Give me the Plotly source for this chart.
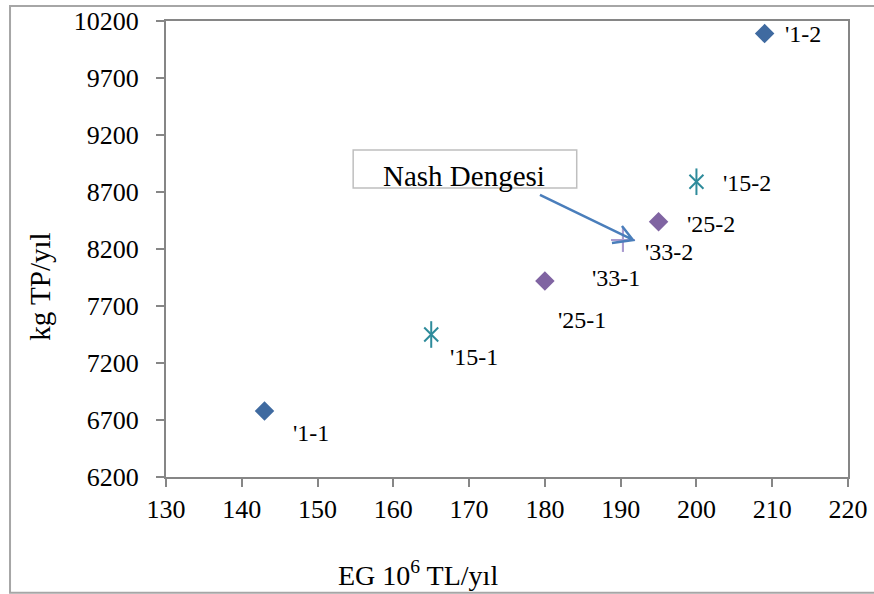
import plotly.graph_objects as go

# Data
labels = ["'1-1", "'1-2", "'15-1", "'15-2", "'25-1", "'25-2", "'33-1", "'33-2"]
x_vals = [143, 209, 165, 200, 180, 195, 190.3, 190.3]
y_vals = [6780, 10090, 7450, 8790, 7920, 8440, 8280, 8280]
groups = ["1", "1", "15", "15", "25", "25", "33", "33"]

x_ticks = [130, 140, 150, 160, 170, 180, 190, 200, 210, 220]
y_ticks = [6200, 6700, 7200, 7700, 8200, 8700, 9200, 9700, 10200]

# label offsets (pixels) relative to markers
label_dx = [26, 18, 17, 25, 11, 26, -33, 20]
label_dy = [-22, 0, -22, -1, -39, -2, -38, -12]

FONT = "Liberation Serif, Times New Roman, serif"

def sel(g):
    idx = [i for i, gg in enumerate(groups) if gg == g]
    return [x_vals[i] for i in idx], [y_vals[i] for i in idx]

fig = go.Figure()

x1, y1 = sel("1")
fig.add_trace(go.Scatter(x=x1, y=y1, mode="markers",
                         marker=dict(symbol="diamond", size=15, color="#3F6AA0"),
                         showlegend=False, hoverinfo="skip"))
x15, y15 = sel("15")
fig.add_trace(go.Scatter(x=x15, y=y15, mode="markers",
                         marker=dict(symbol="x-thin-open", size=14, color="#2E8B9B",
                                     line=dict(color="#2E8B9B", width=2)),
                         showlegend=False, hoverinfo="skip"))
fig.add_trace(go.Scatter(x=x15, y=y15, mode="markers",
                         marker=dict(symbol="line-ns-open", size=19, color="#2E8B9B",
                                     line=dict(color="#2E8B9B", width=2)),
                         showlegend=False, hoverinfo="skip"))
x25, y25 = sel("25")
fig.add_trace(go.Scatter(x=x25, y=y25, mode="markers",
                         marker=dict(symbol="diamond", size=15, color="#8064A2"),
                         showlegend=False, hoverinfo="skip"))
x33, y33 = sel("33")
fig.add_trace(go.Scatter(x=x33, y=y33, mode="markers",
                         marker=dict(symbol="cross-thin-open", size=17, color="#A99BCF",
                                     line=dict(color="#A99BCF", width=2)),
                         showlegend=False, hoverinfo="skip"))

annotations = []
for lab, xv, yv, dx, dy in zip(labels, x_vals, y_vals, label_dx, label_dy):
    annotations.append(dict(x=xv, y=yv, xref="x", yref="y", text=lab,
                            showarrow=False, xanchor="left", yanchor="middle",
                            xshift=dx, yshift=dy,
                            font=dict(family=FONT, size=24, color="#000000")))

# Nash Dengesi callout
annotations.append(dict(x=169.3, y=8840, xref="x", yref="y", text="Nash Dengesi",
                        showarrow=False, font=dict(family=FONT, size=29, color="#000000")))

# axis titles
annotations.append(dict(x=-0.185, y=0.417, xref="paper", yref="paper",
                        text="kg TP/yıl", textangle=-90, showarrow=False,
                        xanchor="center", yanchor="middle",
                        font=dict(family=FONT, size=29, color="#000000")))
annotations.append(dict(x=0.37, y=-0.212, xref="paper", yref="paper",
                        text="EG 10<sup>6</sup> TL/yıl", showarrow=False,
                        xanchor="center", yanchor="middle",
                        font=dict(family=FONT, size=28, color="#000000")))

# arrow: tail, tip and open head arms (data coords)
tail = (179.35, 8674)
tip = (191.63, 8279)
arm1 = (190.17, 8402)
arm2 = (188.85, 8253)
arrow_path = (f"M {tail[0]},{tail[1]} L {tip[0]},{tip[1]} "
              f"M {arm1[0]},{arm1[1]} L {tip[0]},{tip[1]} L {arm2[0]},{arm2[1]}")

shapes = [
    dict(type="rect", xref="x", yref="y", x0=154.7, x1=184.2, y0=8735, y1=9068,
         line=dict(color="#BFBFBF", width=1.5), fillcolor="rgba(0,0,0,0)", layer="below"),
    dict(type="path", xref="x", yref="y", path=arrow_path,
         line=dict(color="#4A7EBB", width=2.5)),
    dict(type="rect", xref="paper", yref="paper", x0=-0.2287, x1=1.3, y0=-0.254, y1=1.033,
         line=dict(color="#A6A6A6", width=2), fillcolor="rgba(0,0,0,0)"),
]

fig.update_layout(
    width=874, height=594,
    margin=dict(l=166, r=26, t=21, b=117),
    paper_bgcolor="white", plot_bgcolor="white",
    annotations=annotations, shapes=shapes,
    xaxis=dict(range=[130, 220], tickvals=x_ticks, ticktext=[str(v) for v in x_ticks],
               showgrid=False, zeroline=False, automargin=False,
               showline=True, mirror=True, linecolor="#868686", linewidth=2,
               ticks="outside", ticklen=8, tickcolor="#868686", tickwidth=1.5,
               tickfont=dict(family=FONT, size=26, color="#000000")),
    yaxis=dict(range=[6200, 10200], tickvals=y_ticks, ticktext=[str(v) for v in y_ticks],
               showgrid=False, zeroline=False, automargin=False,
               showline=True, mirror=True, linecolor="#868686", linewidth=2,
               ticks="outside", ticklen=8, tickcolor="#868686", tickwidth=1.5,
               ticklabelstandoff=12,
               tickfont=dict(family=FONT, size=26, color="#000000")),
)

fig.write_html("out.html")
